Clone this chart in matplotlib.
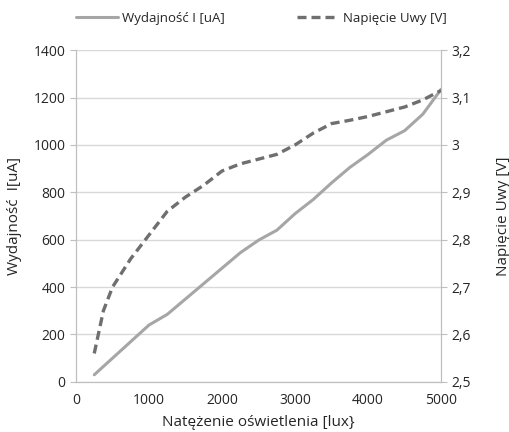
import numpy as np
import matplotlib.pyplot as plt

plt.rcParams['font.family'] = ['Open Sans', 'DejaVu Sans']

# illuminance [lux]
lux = [250, 375, 500, 750, 1000, 1250, 1500, 1750, 2000, 2250, 2500,
       2750, 3000, 3250, 3500, 3750, 4000, 4250, 4500, 4750, 5000]
# output current [uA]
current = [30, 65, 100, 170, 240, 285, 350, 415, 480, 545, 598,
           640, 710, 770, 840, 905, 960, 1020, 1060, 1130, 1235]
# output voltage [V]
voltage = [2.56, 2.65, 2.70, 2.76, 2.81, 2.86, 2.89, 2.915, 2.945, 2.96, 2.97,
           2.98, 3.00, 3.025, 3.045, 3.052, 3.06, 3.07, 3.08, 3.095, 3.115]

left_ticks = [0, 200, 400, 600, 800, 1000, 1200, 1400]
right_ticks = [2.5, 2.6, 2.7, 2.8, 2.9, 3.0, 3.1, 3.2]
right_labels = ['2,5', '2,6', '2,7', '2,8', '2,9', '3', '3,1', '3,2']
x_ticks = [0, 1000, 2000, 3000, 4000, 5000]

grey = '#bfbfbf'
txt = '#262626'
fig = plt.figure(figsize=(5.1, 4.32), dpi=100)
ax = fig.add_axes([0.149, 0.116, 0.716, 0.768])
ax2 = ax.twinx()

l1, = ax.plot(lux, current, color='#a6a6a6', lw=2.2,
              solid_capstyle='round', solid_joinstyle='round')
l2, = ax2.plot(lux, voltage, color='#6f6f6f', lw=2.4, ls=(0, (2.7, 1.5)),
               dash_joinstyle='round')

ax.set_xlim(0, 5000)
ax.set_ylim(0, 1400)
ax2.set_ylim(2.5, 3.2)
ax.set_xticks(x_ticks)
ax.set_yticks(left_ticks)
ax2.set_yticks(right_ticks)
ax2.set_yticklabels(right_labels)
ax.yaxis.grid(True, color='#d9d9d9', lw=1)
ax.set_axisbelow(True)

for a in (ax, ax2):
    for s in a.spines.values():
        s.set_color(grey)
    a.spines['top'].set_visible(False)
    a.tick_params(colors=grey, labelcolor=txt, labelsize=10, length=4)
ax.tick_params(axis='x', length=0, pad=8)

ax.set_xlabel('Natężenie oświetlenia [lux}', fontsize=11, color=txt, labelpad=5)
ax.set_ylabel('Wydajność  I[uA]', fontsize=11, color=txt, labelpad=8)
ax2.set_ylabel('Napięcie Uwy [V]', fontsize=11, color=txt, labelpad=18)

fig.legend([l1, l2], ['Wydajność I [uA]', 'Napięcie Uwy [V]'], loc='upper left',
           bbox_to_anchor=(0.125, 1.0), ncol=2, frameon=False, fontsize=9.5,
           handlelength=3.2, handletextpad=0.3, columnspacing=5.5, labelcolor=txt)

fig.savefig('out.png', dpi=100)
